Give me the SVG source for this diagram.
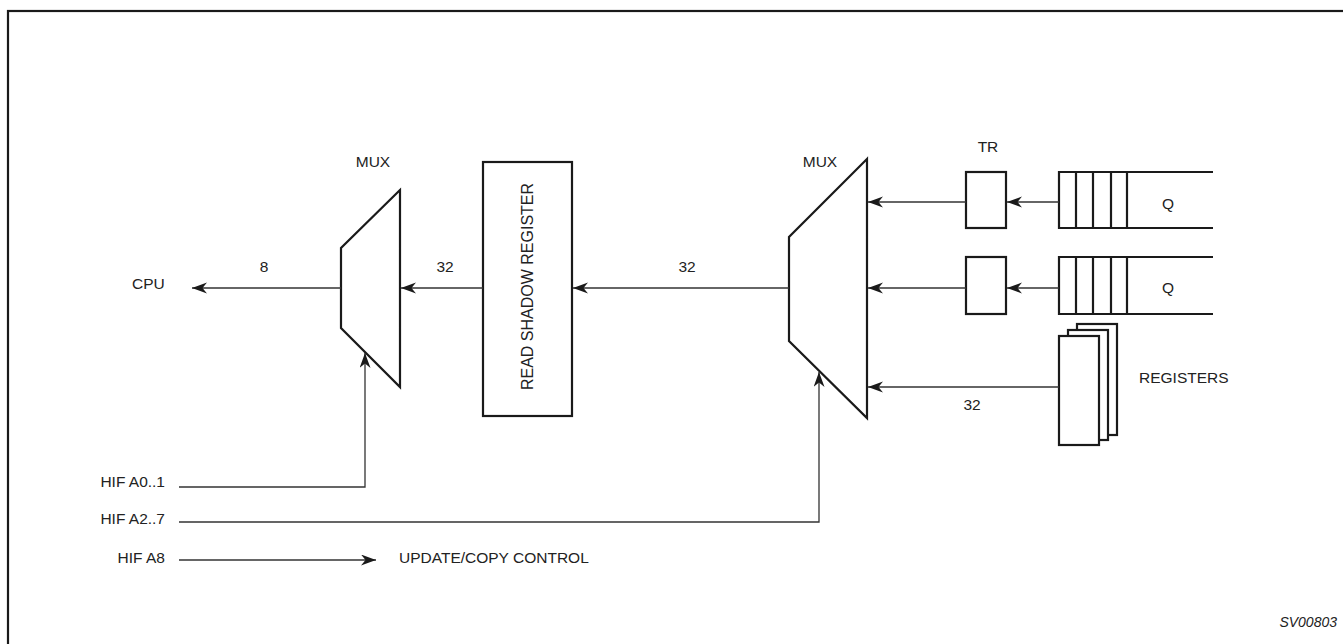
<svg xmlns="http://www.w3.org/2000/svg" width="1343" height="644" viewBox="0 0 1343 644">
<style>
.t{font-family:"Liberation Sans",Arial,sans-serif;font-size:15.5px;fill:#222}
.s{fill:#fff;stroke:#1a1a1a;stroke-width:2.2;stroke-linejoin:miter}
.q{fill:none;stroke:#1a1a1a;stroke-width:2.2}
.c{fill:none;stroke:#333;stroke-width:1.3}
</style>
<defs>
<marker id="ah" markerUnits="userSpaceOnUse" markerWidth="18" markerHeight="14" refX="15" refY="5.5" orient="auto">
<path d="M15,5.5 L0,0 L4.5,5.5 L0,11 Z" fill="#1a1a1a"/>
</marker>
</defs>
<rect x="0" y="0" width="1343" height="644" fill="#fff"/>
<rect x="8" y="11" width="1345" height="650" fill="none" stroke="#1a1a1a" stroke-width="2.2"/>

<g id="mux1">
<polygon class="s" points="400,190 341,248 341,328 400,387"/>
<text class="t" x="373" y="167" text-anchor="middle">MUX</text>
</g>
<g id="cpu"><text class="t" x="132" y="289">CPU</text></g>
<g id="shadow">
<rect class="s" x="483" y="162" width="89" height="254"/>
<text class="t" transform="translate(533,286.5) rotate(-90)" text-anchor="middle" style="font-size:16px">READ SHADOW REGISTER</text>
</g>
<g id="mux2">
<polygon class="s" points="867,159 789,237 789,341 867,418"/>
<text class="t" x="820" y="167" text-anchor="middle">MUX</text>
</g>
<g id="tr1">
<rect class="s" x="966" y="172" width="40" height="56"/>
<text class="t" x="988" y="152" text-anchor="middle">TR</text>
</g>
<g id="tr2">
<rect class="s" x="966" y="257" width="40" height="57"/>
</g>
<g id="q1">
<path class="q" d="M1213,172 H1059 V228 H1213 M1076,172 V228 M1093,172 V228 M1111,172 V228 M1127,172 V228"/>
<text class="t" x="1168" y="209" text-anchor="middle">Q</text>
</g>
<g id="q2">
<path class="q" d="M1213,257 H1059 V314 H1213 M1076,257 V314 M1093,257 V314 M1111,257 V314 M1127,257 V314"/>
<text class="t" x="1168" y="293" text-anchor="middle">Q</text>
</g>
<g id="registers">
<rect class="s" x="1077" y="324" width="40" height="111"/>
<rect class="s" x="1068" y="330" width="40" height="110"/>
<rect class="s" x="1059" y="336" width="40" height="109"/>
<text class="t" x="1139" y="383">REGISTERS</text>
</g>
<g id="labels">
<text class="t" x="165" y="487" text-anchor="end">HIF A0..1</text>
<text class="t" x="165" y="524" text-anchor="end">HIF A2..7</text>
<text class="t" x="165" y="563" text-anchor="end">HIF A8</text>
<text class="t" x="399" y="563">UPDATE/COPY CONTROL</text>
<text class="t" x="1337" y="627" text-anchor="end" font-style="italic" style="font-size:14px">SV00803</text>
</g>

<g id="connectors">
<path class="c" d="M341,288 H192" marker-end="url(#ah)"/>
<text class="t" x="264" y="272" text-anchor="middle">8</text>
<path class="c" d="M483,288 H401" marker-end="url(#ah)"/>
<text class="t" x="445" y="272" text-anchor="middle">32</text>
<path class="c" d="M789,288 H573" marker-end="url(#ah)"/>
<text class="t" x="687" y="272" text-anchor="middle">32</text>
<path class="c" d="M966,202 H868" marker-end="url(#ah)"/>
<path class="c" d="M1059,202 H1007" marker-end="url(#ah)"/>
<path class="c" d="M966,288 H868" marker-end="url(#ah)"/>
<path class="c" d="M1059,288 H1007" marker-end="url(#ah)"/>
<path class="c" d="M1059,387 H868" marker-end="url(#ah)"/>
<text class="t" x="972" y="410" text-anchor="middle">32</text>
<path class="c" d="M179,487 H365 V353" marker-end="url(#ah)"/>
<path class="c" d="M179,522 H819 V372" marker-end="url(#ah)"/>
<path class="c" d="M179,560 H376" marker-end="url(#ah)"/>
</g>
</svg>
